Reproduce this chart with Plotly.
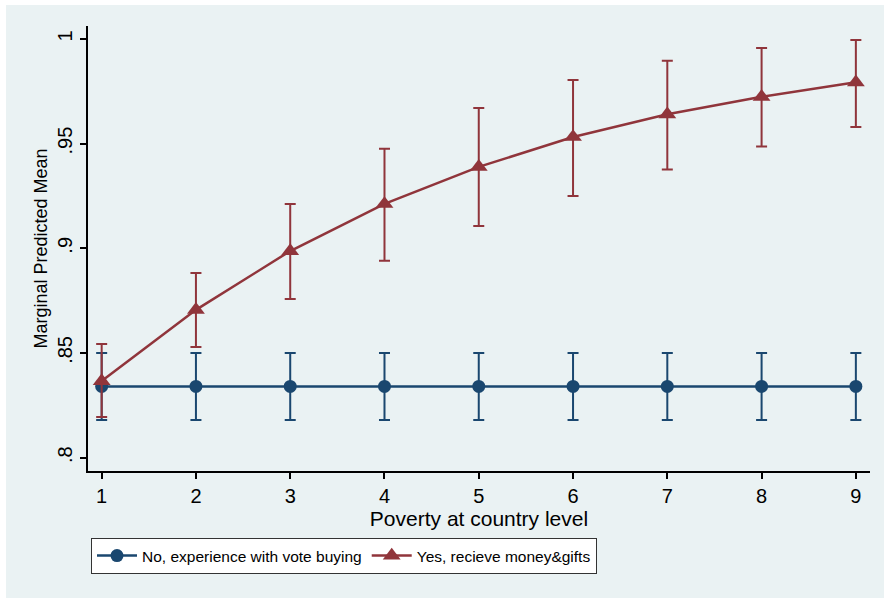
import plotly.graph_objects as go

# Poverty level (x) and margins with 95% confidence limits
poverty = [1, 2, 3, 4, 5, 6, 7, 8, 9]

no_mean = [0.834, 0.834, 0.834, 0.834, 0.834, 0.834, 0.834, 0.834, 0.834]
no_lo = [0.818, 0.818, 0.818, 0.818, 0.818, 0.818, 0.818, 0.818, 0.818]
no_hi = [0.850, 0.850, 0.850, 0.850, 0.850, 0.850, 0.850, 0.850, 0.850]

yes_mean = [0.8366, 0.8706, 0.8987, 0.9212, 0.9389, 0.9532, 0.9640, 0.9724, 0.9793]
yes_lo = [0.8194, 0.8529, 0.8758, 0.8940, 0.9107, 0.9250, 0.9376, 0.9486, 0.9580]
yes_hi = [0.8543, 0.8882, 0.9212, 0.9475, 0.9670, 0.9804, 0.9896, 0.9957, 0.9995]

y_ticks = [0.8, 0.85, 0.9, 0.95, 1.0]
y_tick_text = [".8", ".85", ".9", ".95", "1"]

NAVY = "#1a476f"
MAROON = "#90353b"
FRAME = "#eaf2f3"
FONT = "Liberation Sans, Arial, sans-serif"


def err(mean, lo, hi):
    return dict(
        type="data",
        symmetric=False,
        array=[h - m for h, m in zip(hi, mean)],
        arrayminus=[m - l for m, l in zip(mean, lo)],
        thickness=2,
        width=5.5,
    )


fig = go.Figure()
fig.add_trace(go.Scatter(
    x=poverty, y=no_mean, mode="lines+markers",
    name="No, experience with vote buying",
    line=dict(color=NAVY, width=2.5),
    marker=dict(symbol="circle", size=13, color=NAVY),
    error_y=dict(color=NAVY, **err(no_mean, no_lo, no_hi)),
))
fig.add_trace(go.Scatter(
    x=poverty, y=yes_mean, mode="lines+markers",
    name="Yes, recieve money&gifts",
    line=dict(color=MAROON, width=2.5),
    marker=dict(symbol="triangle-up", size=15.5, color=MAROON),
    error_y=dict(color=MAROON, **err(yes_mean, yes_lo, yes_hi)),
))

W, H = 886, 602
L, R, T, B = 88, 16, 26, 131
pw, ph = W - L - R, H - T - B


def px_x(x):
    return (x - L) / pw


def px_y(y):
    return (H - B - y) / ph


# light outer frame behind the plotting region
fig.add_shape(type="rect", xref="paper", yref="paper", layer="below",
              x0=px_x(6), x1=px_x(884), y0=px_y(598), y1=px_y(5),
              fillcolor=FRAME, line=dict(width=0))

fig.update_layout(
    width=W, height=H,
    margin=dict(l=L, r=R, t=T, b=B),
    paper_bgcolor="white",
    plot_bgcolor="white",
    font=dict(family=FONT, color="black", size=20),
    showlegend=True,
    legend=dict(
        orientation="h",
        x=px_x(91), y=px_y(538), xanchor="left", yanchor="top",
        bgcolor="white", bordercolor="#333333", borderwidth=1,
        font=dict(size=15.5),
        itemwidth=40,
    ),
    xaxis=dict(
        range=[0.855, 9.15],
        tickvals=poverty,
        tickfont=dict(size=20),
        showgrid=False, zeroline=False,
        showline=True, linecolor="black", linewidth=2,
        ticks="outside", ticklen=6, tickwidth=2, tickcolor="black",
        title=dict(text="Poverty at country level", standoff=2, font=dict(size=21)),
    ),
    yaxis=dict(
        range=[0.7936, 1.0062],
        tickvals=y_ticks, ticktext=y_tick_text,
        tickangle=-90,
        tickfont=dict(size=20),
        showgrid=True, gridcolor=FRAME, gridwidth=1.5,
        zeroline=False,
        showline=True, linecolor="black", linewidth=2,
        ticks="outside", ticklen=6, tickwidth=2, tickcolor="black",
        title=dict(text="Marginal Predicted Mean", standoff=2, font=dict(size=18)),
    ),
)

fig.write_html("out.html")
